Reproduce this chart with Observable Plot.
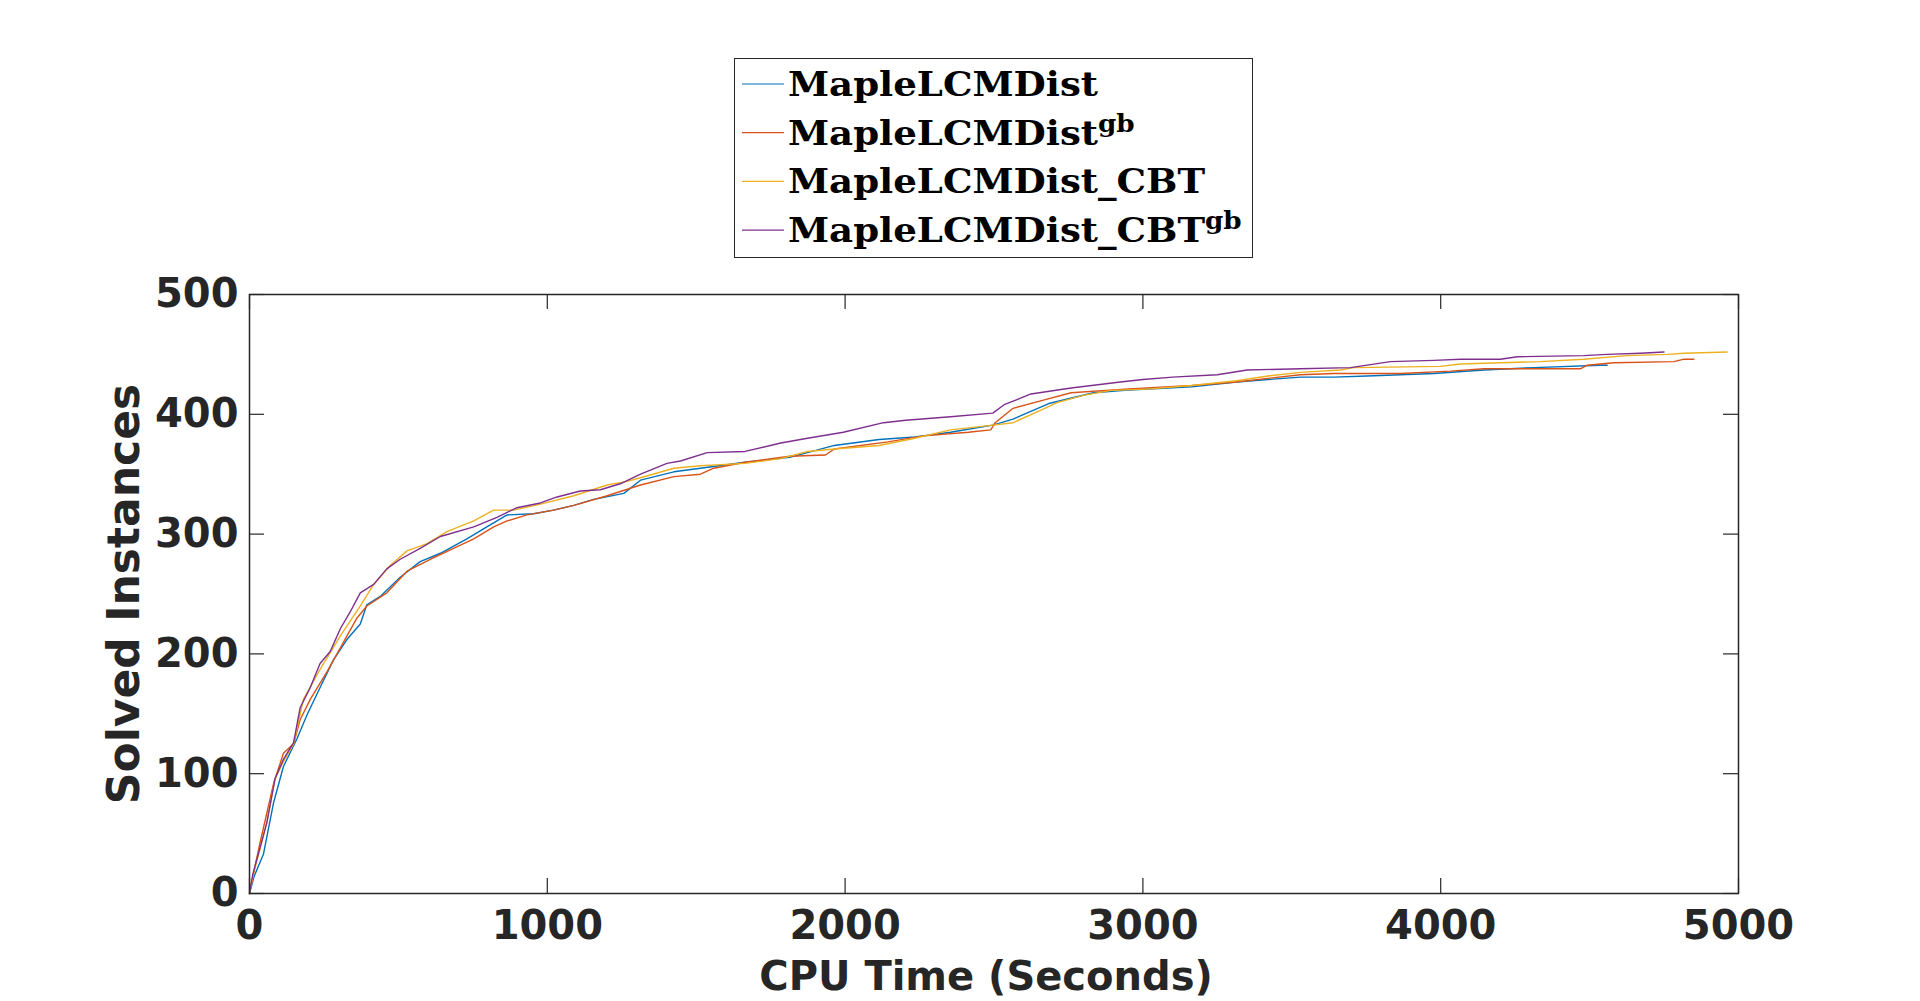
<!DOCTYPE html>
<html>
<head>
<meta charset="utf-8">
<script src="https://cdn.jsdelivr.net/npm/d3@7"></script>
<script src="https://cdn.jsdelivr.net/npm/@observablehq/plot@0.6"></script>
<style>
  html, body { margin: 0; padding: 0; background: #fff; }
  #chart { width: 1920px; }
  #chart svg { display: block; }
</style>
</head>
<body>
<div id="chart"></div>
<script>
// Solver names: base text and optional superscript
const seriesBase = ["MapleLCMDist", "MapleLCMDist", "MapleLCMDist_CBT", "MapleLCMDist_CBT"];
const seriesSup = ["", "gb", "", "gb"];
const seriesKeys = ["MapleLCMDist", "MapleLCMDist^gb", "MapleLCMDist_CBT", "MapleLCMDist_CBT^gb"];
const seriesColors = ["#0072BD", "#D95319", "#EDB120", "#7E2F8E"];

// Cumulative solved instances against CPU time, one pair of arrays per solver
const timeBase = [0, 15, 47, 81, 114, 159, 193, 237, 282, 327, 372, 394, 439, 506, 573, 641, 730, 797, 865, 954, 1021, 1089, 1156, 1257, 1313, 1425, 1514, 1664, 1814, 1964, 2114, 2234, 2354, 2496, 2564, 2684, 2834, 2939, 3164, 3314, 3420, 3529, 3641, 3753, 3977, 4145, 4313, 4537, 4559];
const solvedBase = [0, 14, 33, 76, 106, 129, 149, 172, 195, 212, 225, 241, 248, 264, 277, 284, 296, 306, 316, 317, 320, 324, 329, 334, 345, 352, 355, 360, 364, 374, 379, 381, 385, 391, 396, 409, 418, 420, 423, 427, 429, 431, 431, 432, 434, 437, 439, 441, 441];

const timeGb = [0, 12, 36, 81, 114, 148, 170, 204, 260, 305, 361, 394, 461, 529, 607, 685, 753, 820, 865, 932, 1021, 1089, 1201, 1313, 1425, 1514, 1559, 1664, 1814, 1934, 1964, 2144, 2264, 2414, 2489, 2504, 2564, 2669, 2759, 2939, 3164, 3314, 3420, 3529, 3641, 3865, 4033, 4145, 4469, 4492, 4581, 4783, 4817, 4850];
const solvedGb = [0, 15, 43, 92, 117, 125, 145, 162, 185, 205, 230, 240, 251, 269, 279, 288, 296, 306, 311, 316, 320, 324, 332, 341, 348, 350, 355, 360, 365, 366, 371, 377, 382, 385, 387, 393, 405, 412, 418, 421, 424, 427, 430, 433, 434, 434, 436, 438, 438, 441, 443, 444, 446, 446];

const timeCbt = [0, 12, 58, 86, 114, 148, 181, 237, 305, 372, 417, 473, 529, 596, 663, 753, 820, 887, 977, 1089, 1201, 1268, 1313, 1425, 1514, 1664, 1784, 1874, 1964, 2114, 2234, 2354, 2496, 2564, 2654, 2714, 2804, 2894, 3014, 3164, 3314, 3420, 3529, 3663, 3708, 3999, 4066, 4335, 4480, 4626, 4761, 4817, 4962];
const solvedCbt = [0, 15, 59, 96, 110, 125, 162, 187, 215, 240, 258, 274, 286, 292, 302, 311, 320, 320, 325, 332, 341, 344, 347, 355, 357, 359, 363, 369, 371, 374, 380, 387, 391, 393, 403, 410, 416, 420, 421, 424, 428, 432, 435, 437, 439, 440, 442, 444, 446, 449, 450, 451, 452];

const timeCbtGb = [0, 11, 58, 86, 114, 148, 170, 204, 237, 271, 305, 338, 372, 417, 461, 506, 573, 641, 753, 831, 898, 977, 1033, 1111, 1178, 1245, 1313, 1402, 1447, 1537, 1664, 1784, 1874, 1994, 2129, 2204, 2354, 2496, 2534, 2624, 2759, 2924, 3000, 3100, 3250, 3350, 3529, 3697, 3753, 3831, 3977, 4066, 4201, 4257, 4480, 4559, 4671, 4750];
const solvedCbtGb = [0, 16, 59, 96, 112, 126, 155, 172, 192, 202, 221, 235, 251, 258, 271, 279, 288, 298, 306, 314, 322, 326, 331, 336, 337, 342, 350, 359, 361, 368, 369, 376, 380, 385, 393, 395, 398, 401, 408, 417, 422, 427, 429, 431, 433, 437, 438, 439, 441, 444, 445, 446, 446, 448, 449, 450, 451, 452];

const xTicks = [0, 1000, 2000, 3000, 4000, 5000];
const yTicks = [0, 100, 200, 300, 400, 500];

// Long-format table for the line mark
const seriesTimes = [timeBase, timeGb, timeCbt, timeCbtGb];
const seriesSolved = [solvedBase, solvedGb, solvedCbt, solvedCbtGb];
const rows = [];
seriesKeys.forEach((key, i) => {
  seriesTimes[i].forEach((t, j) => rows.push({series: key, t, n: seriesSolved[i][j]}));
});

const chart = document.getElementById("chart");
const axisColor = "#262626";

// ---- Legend (boxed, above the axes) ----
const legendHeight = 270;
const legend = d3.create("svg")
  .attr("width", 1920)
  .attr("height", legendHeight);
legend.append("rect")
  .attr("x", 734.5).attr("y", 58.5)
  .attr("width", 518).attr("height", 199)
  .attr("fill", "#fff").attr("stroke", axisColor).attr("stroke-width", 1);
const rowGap = 48.7;
const rowTop = 84;
const labels = [];
seriesKeys.forEach((key, i) => {
  const y = rowTop + i * rowGap;
  legend.append("line")
    .attr("x1", 742).attr("x2", 784)
    .attr("y1", y).attr("y2", y)
    .attr("stroke", seriesColors[i]).attr("stroke-width", 1.2);
  const txt = legend.append("text")
    .attr("font-family", "'DejaVu Serif', serif")
    .attr("font-weight", "bold")
    .attr("font-size", 34)
    .attr("fill", "#000")
    .attr("data-y", y + 12);
  txt.append("tspan").text(seriesBase[i]);
  if (seriesSup[i]) {
    txt.append("tspan").attr("font-size", 24).attr("dy", -13).text(seriesSup[i]);
  }
  labels.push(txt);
});
chart.appendChild(legend.node());
// Widen the serif glyphs to the extended bold look of the labels
const naturalWidth = labels[0].select("tspan").node().getComputedTextLength();
const stretch = 310 / naturalWidth;
labels.forEach(t => t.attr("transform", `translate(788,${t.attr("data-y")}) scale(${stretch},1)`));

// ---- Axes and curves ----
const frameH = 599;
const frameW = 1489;
const tickLen = 15;
const plot = Plot.plot({
  width: 1920,
  height: 731,
  marginLeft: 249,
  marginRight: 182,
  marginTop: 24,
  marginBottom: 108,
  style: {
    fontFamily: "'DejaVu Sans', sans-serif",
    fontSize: "40px",
    fontWeight: "bold",
    color: axisColor,
    background: "#fff"
  },
  x: {domain: [0, 5000]},
  y: {domain: [0, 500]},
  color: {domain: seriesKeys, range: seriesColors},
  marks: [
    Plot.axisX(xTicks, {anchor: "bottom", tickSize: 0, tickPadding: 17, tickFormat: d => String(d), label: null}),
    Plot.axisY(yTicks, {anchor: "left", tickSize: 0, tickPadding: 11, tickFormat: d => String(d), label: null}),
    Plot.ruleX(xTicks, {x: d => d, insetTop: frameH - tickLen, stroke: axisColor, strokeWidth: 1.2}),
    Plot.ruleX(xTicks, {x: d => d, insetBottom: frameH - tickLen, stroke: axisColor, strokeWidth: 1.2}),
    Plot.ruleY(yTicks, {y: d => d, insetRight: frameW - tickLen, stroke: axisColor, strokeWidth: 1.2}),
    Plot.ruleY(yTicks, {y: d => d, insetLeft: frameW - tickLen, stroke: axisColor, strokeWidth: 1.2}),
    Plot.line(rows, {x: "t", y: "n", z: "series", stroke: "series", strokeWidth: 1.4}),
    Plot.frame({stroke: axisColor, strokeWidth: 1.5}),
    Plot.text(["CPU Time (Seconds)"], {frameAnchor: "bottom", dx: -8, dy: 84, textAnchor: "middle", lineAnchor: "middle", fontSize: 40, fontWeight: "bold", fill: axisColor}),
    Plot.text(["Solved Instances"], {frameAnchor: "left", dx: -125, rotate: -90, textAnchor: "middle", lineAnchor: "middle", fontSize: 44, fontWeight: "bold", fill: axisColor})
  ]
});
chart.appendChild(plot);
</script>
</body>
</html>
